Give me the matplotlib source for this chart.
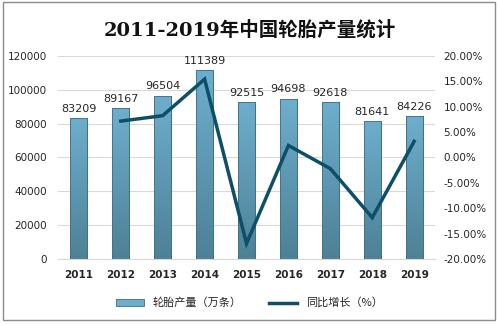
import numpy as np
import matplotlib.pyplot as plt
from matplotlib.patches import Rectangle
from matplotlib.lines import Line2D
from matplotlib.colors import LinearSegmentedColormap

plt.rcParams['font.family'] = ['DejaVu Sans', 'Noto Sans CJK SC']

# Data
years = ['2011', '2012', '2013', '2014', '2015', '2016', '2017', '2018', '2019']
output = [83209, 89167, 96504, 111389, 92515, 94698, 92618, 81641, 84226]
growth = [None, 7.16, 8.23, 15.42, -16.94, 2.36, -2.20, -11.85, 3.17]

bar_top = '#6eaecd'
bar_bottom = '#4d8196'
line_color = '#0d4f69'
text_color = '#262626'

fig = plt.figure(figsize=(4.99, 3.25), dpi=100)
ax = fig.add_axes([0.116, 0.203, 0.756, 0.625])
ax2 = ax.twinx()

x = np.arange(len(years))
bars = ax.bar(x, output, width=0.4, color=bar_top, edgecolor='#3f6f82', linewidth=0.6, zorder=2)

# vertical gradient inside each bar
grad = np.linspace(1, 0, 256).reshape(-1, 1)
cmap = LinearSegmentedColormap.from_list('bar', [bar_bottom, bar_top])
for b in bars:
    bx, by, bw, bh = b.get_x(), b.get_y(), b.get_width(), b.get_height()
    im = ax.imshow(grad, cmap=cmap, extent=[bx, bx + bw, by, by + bh],
                   aspect='auto', zorder=2.5)
    im.set_clip_path(b)
    ax.add_patch(Rectangle((bx, by), bw, bh, fill=False, edgecolor='#3f6f82', linewidth=0.6, zorder=3))

for xi, v in zip(x, output):
    ax.text(xi, v + 2500, str(v), ha='center', va='bottom', fontsize=8, color=text_color, zorder=4)

ax.set_xlim(-0.5, len(years) - 0.5)
ax.set_ylim(0, 120000)
ax.set_yticks(np.arange(0, 120001, 20000))
ax.set_xticks(x)
ax.set_xticklabels(years, fontsize=7.5, fontweight='bold', color=text_color)
ax.tick_params(axis='y', labelsize=7.5, colors=text_color, length=0, pad=8)
ax.tick_params(axis='x', length=0, pad=8)
ax.grid(axis='y', color='#d9d9d9', linewidth=0.8, zorder=0)
ax.set_axisbelow(True)
for s in ax.spines.values():
    s.set_visible(False)
ax.spines['bottom'].set_visible(True)
ax.spines['bottom'].set_color('#d9d9d9')

gx = [xi for xi, g in zip(x, growth) if g is not None]
gy = [g for g in growth if g is not None]
ax2.plot(gx, gy, color=line_color, linewidth=2.5, solid_joinstyle='miter', zorder=5)
ax2.set_ylim(-20, 20)
ax2.set_yticks(np.arange(-20, 21, 5))
ax2.set_yticklabels(['%.2f%%' % t for t in np.arange(-20, 21, 5)])
ax2.tick_params(axis='y', labelsize=7.5, colors=text_color, length=0, pad=6)
for s in ax2.spines.values():
    s.set_visible(False)

fig.text(0.5, 0.908, '2011-2019年中国轮胎产量统计', ha='center', va='center',
         fontsize=14, fontweight='bold', color='#111111',
         family=['DejaVu Serif', 'Noto Sans CJK SC'])

handles = [Rectangle((0, 0), 1, 1, facecolor=bar_top, edgecolor='#3f6f82', linewidth=0.6),
           Line2D([0], [0], color=line_color, linewidth=2.5)]
fig.legend(handles, ['轮胎产量（万条）', '同比增长（%）'], loc='center', bbox_to_anchor=(0.5, 0.068),
           ncol=2, frameon=False, handlelength=2.5, handleheight=0.6,
           columnspacing=2.5, labelcolor=text_color,
           prop={'family': ['Noto Sans CJK SC'], 'size': 8, 'weight': 'medium'})

fig.add_artist(Rectangle((0.006, 0.015), 0.986, 0.978, transform=fig.transFigure,
                         fill=False, edgecolor='#8c8c8c', linewidth=1))

fig.savefig('out.png', dpi=100)
